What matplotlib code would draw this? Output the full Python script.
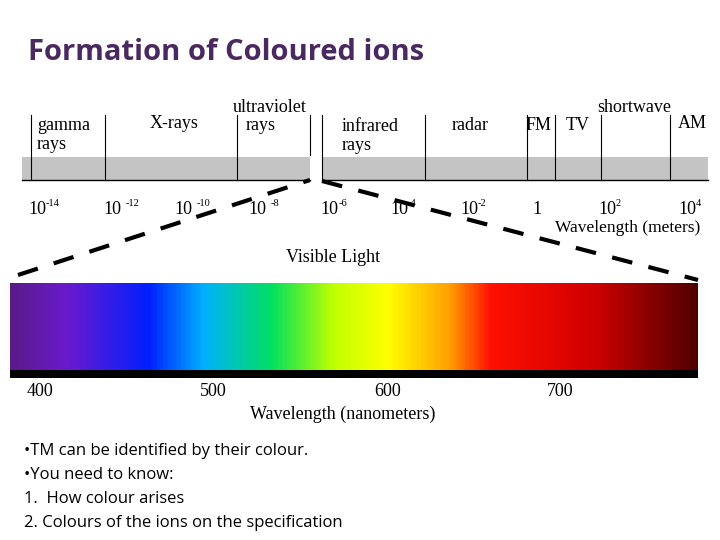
import matplotlib.pyplot as plt
import numpy as np
from matplotlib.colors import LinearSegmentedColormap

# region labels of the electromagnetic band
band_labels = ["gamma\nrays", "X-rays", "ultraviolet", "rays", "infrared\nrays", "radar",
               "FM", "TV", "shortwave", "AM"]
band_label_x = [37, 150, 233, 246, 342, 452, 526, 566, 597, 678]
band_label_y = [135, 124, 107, 126, 136, 126, 126, 126, 107, 124]
divider_x = [31, 105, 237, 310, 322, 425, 527, 555, 601, 670]

# wavelength tick labels (meters), as base and exponent
wl_base = ["10", "10", "10", "10", "10", "10", "10", "1", "10", "10"]
wl_exp = ["-14", "-12", "-10", "-8", "-6", "-4", "-2", "", "2", "4"]
wl_x = [28, 103, 174, 248, 320, 390, 460, 532, 598, 678]
wl_gap = [18, 23, 23, 23, 19, 18, 18, 0, 18, 18]

# visible spectrum
nm_ticks = [400, 500, 600, 700]
nm_x = [40, 213, 388, 560]
spec_stops = [0.0, 0.08, 0.2, 0.28, 0.38, 0.47, 0.55, 0.64, 0.7, 0.85, 1.0]
spec_colors = ["#5a1a8a", "#6a1acc", "#0020ff", "#00b0ff", "#00e060", "#c0ff00",
               "#ffff00", "#ffa000", "#ff1000", "#d00000", "#500000"]

bullets = ["\u2022TM can be identified by their colour.", "\u2022You need to know:",
           "1.  How colour arises", "2. Colours of the ions on the specification"]

fig = plt.figure(figsize=(7.2, 5.4), dpi=100)
ax = fig.add_axes([0, 0, 1, 1])
ax.set_xlim(0, 720)
ax.set_ylim(540, 0)
ax.axis("off")

serif = "Liberation Serif"
ax.text(28, 52, "Formation of Coloured ions", fontsize=21, fontweight="bold",
        color="#4a2860", family="Open Sans", va="center")

# gray band
ax.fill_between([22, 310], 157, 180, color="#c4c4c4", lw=0)
ax.fill_between([322, 708], 157, 180, color="#c4c4c4", lw=0)
ax.plot([22, 310], [180, 180], color="black", lw=1)
ax.plot([322, 708], [180, 180], color="black", lw=1)
for x in divider_x:
    ax.plot([x, x], [115, 180 if x != 310 else 155], color="black", lw=0.8)

for lab, x, y in zip(band_labels, band_label_x, band_label_y):
    ax.text(x, y, lab, fontsize=13, family=serif, va="center", linespacing=1.1)

for b, e, x, g in zip(wl_base, wl_exp, wl_x, wl_gap):
    ax.text(x, 210, b, fontsize=13, family=serif, va="center")
    if e:
        ax.text(x + g, 203, e, fontsize=7.5, family=serif, va="center")
ax.text(555, 228, "Wavelength (meters)", fontsize=12.5, family=serif, va="center")

# dashed zoom lines
ax.plot([18, 310], [275, 180], color="black", lw=3, dashes=(5, 4))
ax.plot([322, 698], [181, 280], color="black", lw=3, dashes=(5, 4))

ax.text(333, 258, "Visible Light", fontsize=13, family=serif, va="center", ha="center")

cmap = LinearSegmentedColormap.from_list("spec", list(zip(spec_stops, spec_colors)))
ax.imshow(np.linspace(0, 1, 400)[None, :], cmap=cmap, aspect="auto",
          extent=[10, 698, 370, 283], zorder=2)
ax.fill_between([10, 698], 370, 378, color="black", lw=0, zorder=3)
ax.set_xlim(0, 720)
ax.set_ylim(540, 0)

for t, x in zip(nm_ticks, nm_x):
    ax.text(x, 391, str(t), fontsize=13, family=serif, va="center", ha="center")
ax.text(343, 414, "Wavelength (nanometers)", fontsize=13, family=serif,
        va="center", ha="center")

for i, s in enumerate(bullets):
    ax.text(24, 451 + i * 24, s, fontsize=12, family="Open Sans", va="center")

fig.savefig("out.png", dpi=100)
